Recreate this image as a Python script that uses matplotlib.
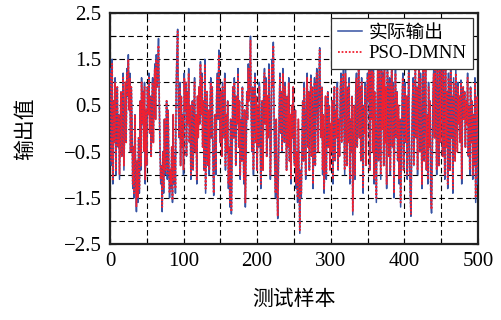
import numpy as np
import matplotlib
matplotlib.use("Agg")
import matplotlib.pyplot as plt
from matplotlib.ticker import MultipleLocator, FixedLocator

plt.rcParams['font.family'] = ['Liberation Serif', 'Noto Sans CJK SC', 'DejaVu Sans']
plt.rcParams['axes.unicode_minus'] = True

actual = [
 1.3, -0.8, 1.5, -1.2, 0.6, -0.3, 1.1, -1.0, 0.2, 0.9,
 -0.4, 0.3, -1.1, -0.2, 0.8, -0.6, 0.5, 1.2, -0.9, 0.1,
 1.0, -0.3, 1.3, 0.7, 1.6, 0.4, 1.2, -0.5, 0.9, 0.2,
 -1.3, -0.4, -1.5, 0.3, -1.1, -1.8, -0.7, -1.6, -0.2, -1.4,
 0.6, -0.9, 1.1, 0.1, 0.8, -0.5, 1.0, -1.2, 0.4, -0.8,
 0.9, 0.3, 1.2, -0.1, 0.7, -0.6, 0.5, 1.1, -0.3, 0.8,
 1.4, 0.2, 1.6, 0.9, 1.3, 1.95, 0.6, -0.4, -1.2, -0.8,
 -1.8, -0.5, -1.4, 0.2, -1.0, -0.3, 0.6, -1.1, 0.4, -0.7,
 -1.5, -0.9, -1.3, -0.4, -1.6, 0.3, -1.2, -0.6, -1.4, 0.9,
 1.6, 2.15, 0.5, -0.2, 1.0, -0.8, 0.7, -0.4, 0.3, -1.0,
 1.2, 0.4, 1.0, -0.6, 0.8, 0.1, 1.3, -0.3, 0.5, -1.1,
 -0.4, 0.6, -0.9, 0.2, 1.1, -0.5, 0.3, -1.2, 0.7, -0.2,
 0.9, 0.1, 1.45, 0.3, 1.2, -0.4, 0.6, -0.9, 1.5, -1.4,
 -0.3, 0.8, -0.8, 0.4, -1.0, 0.5, 1.1, -0.2, 0.9, -0.7,
 -1.45, -0.5, 0.3, -1.0, 0.7, 1.2, 0.2, 1.7, 0.6, -0.3,
 0.8, -0.6, 1.0, 0.4, -0.2, 1.2, -0.9, 0.3, -0.5, 0.6,
 -1.3, -0.4, -1.7, 0.2, -1.85, -0.6, 0.9, -0.2, 1.1, 0.5,
 -0.8, 0.7, 0.1, 1.3, -0.4, 0.6, -1.1, 0.2, -0.7, 0.9,
 -0.3, -1.2, 0.4, -1.7, -0.6, 0.8, 0.2, 1.4, 0.6, 1.1,
 2.0, 0.3, -0.5, 0.9, -1.0, 0.4, 1.2, -0.3, 0.7, -0.9,
 0.5, -0.4, 1.0, 0.2, -1.3, -0.5, 0.6, -0.9, 0.8, 1.3,
 0.1, 1.1, -0.6, 0.7, -0.2, 1.4, 0.4, -1.1, -0.4, 1.5,
 0.9, 1.87, 0.3, -0.8, -1.5, 0.2, -1.2, -1.95, -0.7, 0.4,
 1.2, -0.1, 0.8, -0.5, 1.3, 0.6, -0.3, 1.0, 0.2, -0.9,
 0.7, -0.4, 1.1, -0.7, 0.3, -1.2, 0.5, -0.2, 0.9, -0.6,
 -0.8, 0.4, -1.3, -0.5, -1.6, 0.2, -1.0, -2.27, -0.9, -1.5,
 -0.3, 0.6, -0.7, 1.0, 0.1, -1.1, 0.5, 1.2, -0.4, 0.8,
 -0.9, 0.3, 1.16, -0.6, 0.9, -1.3, 0.2, 1.1, -0.8, 0.5,
 1.3, 0.4, -0.5, 1.0, 1.75, 0.6, -0.2, 0.9, -1.0, 0.3,
 -1.4, -0.6, 0.7, -1.1, 0.2, 0.8, -0.4, 0.5, -0.9, 0.1,
 -0.5, 0.6, -1.2, 0.3, 0.9, -0.7, 0.4, -0.2, 1.0, -0.9,
 0.2, -0.6, 0.8, 1.2, -0.3, 0.5, 1.3, 0.1, -1.0, 1.3,
 0.4, -0.8, 0.9, -0.3, 1.1, -1.2, 0.2, -0.5, 0.7, -1.87,
 -0.6, 0.5, -1.1, 0.8, 1.2, -0.4, 0.6, 1.4, -0.2, 0.9,
 -0.7, 1.1, 0.3, -1.4, 0.5, -0.1, 1.0, -0.8, 0.4, 1.2,
 0.6, 1.5, -0.9, 1.7, 0.2, 1.6, -0.5, 1.3, -1.2, 0.8,
 -0.4, -1.6, 0.5, 1.4, -0.7, 1.8, 0.3, -1.1, 1.6, 0.0,
 1.2, -0.8, 1.5, -0.3, 0.9, -1.3, 1.7, 0.4, -0.6, 1.1,
 -1.0, 0.7, 1.5, -0.4, 1.0, -1.5, 0.3, 1.3, -0.2, 0.8,
 -0.7, 0.5, -1.2, 0.2, -1.7, -0.5, 0.6, 1.2, -0.9, 0.4,
 1.0, -0.3, 0.7, -1.1, 0.2, 1.3, -0.6, -1.4, -1.9, -0.4,
 0.5, 1.1, -0.8, 0.3, 1.4, -0.2, 0.9, -1.0, 0.6, 1.6,
 -0.5, 1.2, 0.1, -1.3, 0.8, 1.5, -0.7, 0.4, 1.7, -0.9,
 0.3, -1.2, 1.0, -0.4, 0.6, -1.5, -1.83, -0.6, 0.8, 1.3,
 -0.2, 1.6, 0.4, -1.0, 1.8, 0.2, -0.8, 1.5, -0.3, 0.9,
 1.7, -0.6, 1.4, 0.3, -1.1, 1.6, -0.4, 0.8, -1.3, 1.2,
 0.5, -0.9, 1.5, -0.2, 0.7, -1.4, 1.1, 0.2, -0.7, 1.3,
 0.4, -0.5, 1.0, 0.1, 0.7, -0.3, 1.05, -1.2, 0.3, 0.9,
 0.2, 0.8, -0.4, 0.6, 0.1, 1.2, -0.6, 0.5, -1.0, 0.9,
 -0.3, 0.6, -1.1, 0.3, -0.8, 1.1, -1.6, -0.4, 0.7, -1.2,
]

predicted = [
 1.2, -0.7, 1.4, -1.1, 0.6, -0.3, 1.0, -0.9, 0.2, 0.9,
 -0.4, 0.3, -1.0, -0.2, 0.8, -0.6, 0.5, 1.1, -0.8, 0.1,
 1.0, -0.3, 1.2, 0.7, 1.5, 0.4, 1.1, -0.5, 0.9, 0.2,
 -1.2, -0.4, -1.4, 0.3, -1.0, -1.7, -0.7, -1.5, -0.2, -1.3,
 0.6, -0.8, 1.0, 0.1, 0.8, -0.5, 0.9, -1.1, 0.4, -0.8,
 0.9, 0.3, 1.1, -0.1, 0.7, -0.6, 0.5, 1.0, -0.3, 0.8,
 1.3, 0.2, 1.5, 0.9, 1.2, 1.8, 0.6, -0.4, -1.1, -0.8,
 -1.7, -0.5, -1.3, 0.2, -0.9, -0.3, 0.6, -1.0, 0.4, -0.7,
 -1.4, -0.9, -1.2, -0.4, -1.55, 0.3, -1.1, -0.6, -1.3, 0.9,
 1.5, 2.1, 0.5, -0.2, 0.9, -0.8, 0.7, -0.4, 0.3, -0.9,
 1.1, 0.4, 1.0, -0.6, 0.8, 0.1, 1.2, -0.3, 0.5, -1.0,
 -0.4, 0.6, -0.9, 0.2, 1.0, -0.5, 0.3, -1.1, 0.7, -0.2,
 0.9, 0.1, 1.4, 0.3, 1.1, -0.4, 0.6, -0.9, 1.4, -1.3,
 -0.3, 0.8, -0.8, 0.4, -0.9, 0.5, 1.0, -0.2, 0.9, -0.7,
 -1.4, -0.5, 0.3, -0.9, 0.7, 1.1, 0.2, 1.6, 0.6, -0.3,
 0.8, -0.6, 0.9, 0.4, -0.2, 1.1, -0.8, 0.3, -0.5, 0.6,
 -1.2, -0.4, -1.6, 0.2, -1.8, -0.6, 0.9, -0.2, 1.0, 0.5,
 -0.8, 0.7, 0.1, 1.2, -0.4, 0.6, -1.0, 0.2, -0.7, 0.9,
 -0.3, -1.1, 0.4, -1.6, -0.6, 0.8, 0.2, 1.3, 0.6, 1.0,
 1.9, 0.3, -0.5, 0.9, -0.9, 0.4, 1.1, -0.3, 0.7, -0.9,
 0.5, -0.4, 0.9, 0.2, -1.2, -0.5, 0.6, -0.9, 0.8, 1.2,
 0.1, 1.0, -0.6, 0.7, -0.2, 1.3, 0.4, -1.0, -0.4, 1.4,
 0.9, 1.8, 0.3, -0.8, -1.4, 0.2, -1.1, -1.9, -0.7, 0.4,
 1.1, -0.1, 0.8, -0.5, 1.2, 0.6, -0.3, 0.9, 0.2, -0.9,
 0.7, -0.4, 1.0, -0.7, 0.3, -1.1, 0.5, -0.2, 0.9, -0.6,
 -0.8, 0.4, -1.2, -0.5, -1.5, 0.2, -0.9, -2.2, -0.9, -1.4,
 -0.3, 0.6, -0.7, 0.9, 0.1, -1.0, 0.5, 1.1, -0.4, 0.8,
 -0.9, 0.3, 1.1, -0.6, 0.9, -1.2, 0.2, 1.0, -0.8, 0.5,
 1.2, 0.4, -0.5, 0.9, 1.7, 0.6, -0.2, 0.9, -0.9, 0.3,
 -1.3, -0.6, 0.7, -1.0, 0.2, 0.8, -0.4, 0.5, -0.9, 0.1,
 -0.5, 0.6, -1.1, 0.3, 0.9, -0.7, 0.4, -0.2, 0.9, -0.9,
 0.2, -0.6, 0.8, 1.1, -0.3, 0.5, 1.2, 0.1, -0.9, 1.2,
 0.4, -0.8, 0.9, -0.3, 1.0, -1.1, 0.2, -0.5, 0.7, -1.8,
 -0.6, 0.5, -1.0, 0.8, 1.1, -0.4, 0.6, 1.3, -0.2, 0.9,
 -0.7, 1.0, 0.3, -1.3, 0.5, -0.1, 0.9, -0.8, 0.4, 1.1,
 0.6, 1.4, -0.9, 1.6, 0.2, 1.5, -0.5, 1.2, -1.1, 0.8,
 -0.4, -1.5, 0.5, 1.3, -0.7, 1.7, 0.3, -1.0, 1.5, 0.0,
 1.1, -0.8, 1.4, -0.3, 0.9, -1.2, 1.6, 0.4, -0.6, 1.0,
 -0.9, 0.7, 1.4, -0.4, 0.9, -1.4, 0.3, 1.2, -0.2, 0.8,
 -0.7, 0.5, -1.1, 0.2, -1.6, -0.5, 0.6, 1.1, -0.9, 0.4,
 0.9, -0.3, 0.7, -1.0, 0.2, 1.2, -0.6, -1.3, -1.85, -0.4,
 0.5, 1.0, -0.8, 0.3, 1.3, -0.2, 0.9, -0.9, 0.6, 1.5,
 -0.5, 1.1, 0.1, -1.2, 0.8, 1.4, -0.7, 0.4, 1.6, -0.9,
 0.3, -1.1, 0.9, -0.4, 0.6, -1.4, -1.75, -0.6, 0.8, 1.2,
 -0.2, 1.5, 0.4, -0.9, 1.7, 0.2, -0.8, 1.4, -0.3, 0.9,
 1.6, -0.6, 1.3, 0.3, -1.0, 1.5, -0.4, 0.8, -1.2, 1.1,
 0.5, -0.9, 1.4, -0.2, 0.7, -1.3, 1.0, 0.2, -0.7, 1.2,
 0.4, -0.5, 0.9, 0.1, 0.7, -0.3, 1.0, -1.1, 0.3, 0.9,
 0.2, 0.8, -0.4, 0.6, 0.1, 1.1, -0.6, 0.5, -0.9, 0.9,
 -0.3, 0.6, -1.0, 0.3, -0.8, 1.0, -1.5, -0.4, 0.7, -1.1,
]

samples = np.arange(1, len(actual) + 1)
x_ticks = [0, 100, 200, 300, 400, 500]
y_ticks = [-2.5, -1.5, -0.5, 0.5, 1.5, 2.5]
labels = ['实际输出', 'PSO-DMNN']
xlabel = '测试样本'
ylabel = '输出值'

fig = plt.figure(figsize=(5.02, 3.2), dpi=100)
ax = fig.add_axes([0.219, 0.2375, 0.733, 0.7215])

ax.plot(samples, actual, color='#3552a3', lw=1.1, label=labels[0], zorder=3)
ax.plot(samples, predicted, color='#f02030', lw=1.3, ls=(0, (1, 1)), label=labels[1], zorder=4)

ax.set_xlim(0, 500)
ax.set_ylim(-2.5, 2.5)
ax.xaxis.set_major_locator(FixedLocator(x_ticks))
ax.xaxis.set_minor_locator(MultipleLocator(50))
ax.yaxis.set_major_locator(FixedLocator(y_ticks))
ax.yaxis.set_minor_locator(FixedLocator([-2, -1, 0, 1, 2]))
ax.set_yticklabels([f'{v:.1f}'.replace('-', '\u2212') for v in y_ticks])

ax.grid(True, which='both', color='black', ls=(0, (5, 3)), lw=0.8, zorder=1)
ax.tick_params(which='both', direction='in', top=True, right=True, labelsize=15, pad=6)
ax.tick_params(which='major', length=4, width=0.8)
ax.tick_params(which='minor', length=4, width=0.8)
for s in ax.spines.values():
    s.set_linewidth(1.6)
    s.set_color('#222222')

ax.set_xlabel(xlabel, fontsize=15, labelpad=14)
ax.set_ylabel(ylabel, fontsize=15, labelpad=20)

leg = ax.legend(loc='upper right', fontsize=13.5, handlelength=1.3, handletextpad=0.35,
                borderpad=0.35, borderaxespad=0.25, labelspacing=0.2,
                fancybox=False, framealpha=1, edgecolor='#333333')
leg.get_frame().set_linewidth(0.9)
leg.set_zorder(10)

fig.savefig('out.png', dpi=100)
